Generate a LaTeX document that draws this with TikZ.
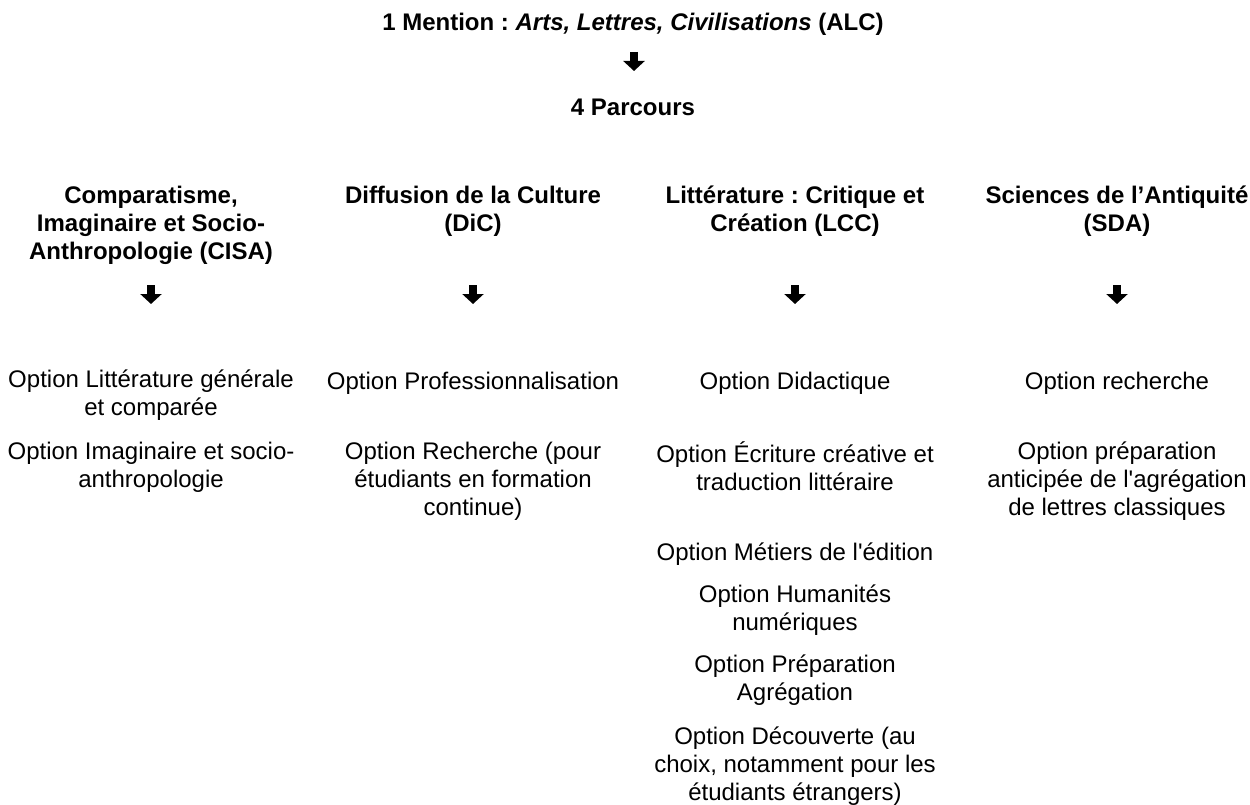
\documentclass[tikz,border=0pt]{standalone}
\usepackage{fontspec}
\setmainfont{Liberation Sans}
\usetikzlibrary{arrows.meta}
\frenchspacing
\begin{document}
\begin{tikzpicture}[x=1pt,y=-1pt,
  every node/.style={inner sep=0pt, outer sep=0pt, align=center, anchor=north, execute at begin node=\strut},
  hdr/.style={font=\bfseries\fontsize{24}{28}\selectfont},
  opt/.style={font=\fontsize{24}{28}\selectfont},
  bigarrow/.style={line width=8pt, -{Triangle[width=21pt,length=10pt]}}]
\useasboundingbox (0,0) rectangle (1250,805);
% top
\node[hdr] (mention) at (633,11) {1 Mention : \textit{Arts, Lettres, Civilisations} (ALC)};
\coordinate (m1) at (634,52);
\coordinate (m2) at (634,71);
\draw[bigarrow] (m1) -- (m2);
\node[hdr] (parcours) at (633,96) {4 Parcours};
% headers
\node[hdr] (cisa) at (151,186) {Comparatisme,\\Imaginaire et Socio-\\Anthropologie (CISA)};
\node[hdr] (dic) at (473,186) {Diffusion de la Culture\\(DiC)};
\node[hdr] (lcc) at (795,186) {Littérature : Critique et\\Création (LCC)};
\node[hdr] (sda) at (1117,186) {Sciences de l’Antiquité\\(SDA)};
% arrows
\foreach \n/\x in {a1/151,a2/473,a3/795,a4/1117}{
  \coordinate (\n s) at (\x,285);
  \coordinate (\n e) at (\x,304);
  \draw[bigarrow] (\n s) -- (\n e);
}
% column 1
\node[opt] (c1o1) at (151,370) {Option Littérature générale\\et comparée};
\node[opt] (c1o2) at (151,442) {Option Imaginaire et socio-\\anthropologie};
% column 2
\node[opt] (c2o1) at (473,370) {Option Professionnalisation};
\node[opt] (c2o2) at (473,442) {Option Recherche (pour\\étudiants en formation\\continue)};
% column 3
\node[opt] (c3o1) at (795,370) {Option Didactique};
\node[opt] (c3o2) at (795,442) {Option Écriture créative et\\traduction littéraire};
\node[opt] (c3o3) at (795,541) {Option Métiers de l\textquotesingle édition};
\node[opt] (c3o4) at (795,585) {Option Humanités\\numériques};
\node[opt] (c3o5) at (795,655) {Option Préparation\\Agrégation};
\node[opt] (c3o6) at (795,727) {Option Découverte (au\\choix, notamment pour les\\étudiants étrangers)};
% column 4
\node[opt] (c4o1) at (1117,370) {Option recherche};
\node[opt] (c4o2) at (1117,442) {Option préparation\\anticipée de l\textquotesingle agrégation\\de lettres classiques};
\end{tikzpicture}
\end{document}
